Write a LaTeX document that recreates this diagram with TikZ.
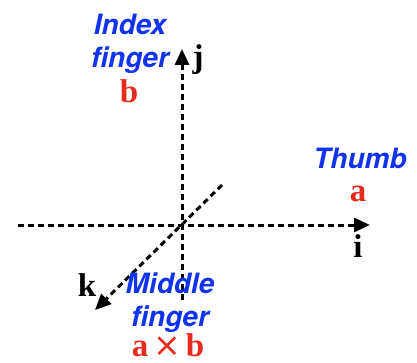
\documentclass[tikz,border=0pt]{standalone}
\usepackage{fontspec}
\setmainfont{Liberation Serif}
\newfontfamily\heros{TeX Gyre Heros}
\newfontfamily\dejavu{DejaVu Sans}
\usetikzlibrary{arrows.meta}
\definecolor{fingerblue}{HTML}{1133EE}
\definecolor{vecred}{HTML}{E62A1C}
\tikzset{
  axis/.style={line width=3pt, dash pattern=on 6pt off 4pt, -{Triangle[length=16pt,width=14pt]}},
  finger/.style={anchor=base, text=fingerblue, font=\heros\bfseries\itshape\fontsize{28}{30}\selectfont, inner sep=0pt},
  vec/.style={anchor=base, text=vecred, font=\bfseries\fontsize{33}{36}\selectfont, inner sep=0pt},
  unit/.style={anchor=base, text=black, font=\bfseries\fontsize{33}{36}\selectfont, inner sep=0pt}
}
\begin{document}
\begin{tikzpicture}[x=1pt,y=-1pt]
  \useasboundingbox (0,0) rectangle (417,363);
  % axis end points
  \coordinate (O) at (182,225);
  \coordinate (ileft) at (18,225);
  \coordinate (itip) at (370,225);
  \coordinate (jbot) at (182,300);
  \coordinate (jtip) at (182,49);
  \coordinate (kback) at (222,185);
  \coordinate (ktip) at (95,310);
  % dashed axes with arrow heads
  \draw[axis] (ileft) -- (itip);
  \draw[axis] (jbot) -- (jtip);
  \draw[axis] (kback) -- (ktip);
  % finger names
  \node[finger] (index) at (130,35) {Index};
  \node[finger] (finger1) at (130,68) {finger};
  \node[finger] (thumb) at (360,169) {Thumb};
  \node[finger] (middle) at (170,293) {Middle};
  \node[finger] (finger2) at (170,326) {finger};
  % vectors
  \node[vec] (b) at (129,103) {b};
  \node[vec] (a) at (358,202) {a};
  \node[vec] (axb) at (168,356) {a\kern5pt{\dejavu\mdseries\fontsize{33}{33}\selectfont ×}\kern5pt b};
  % unit vectors
  \node[unit] (j) at (198,68) {j};
  \node[unit] (i) at (358,257) {i};
  \node[unit] (k) at (87,296) {k};
\end{tikzpicture}
\end{document}
